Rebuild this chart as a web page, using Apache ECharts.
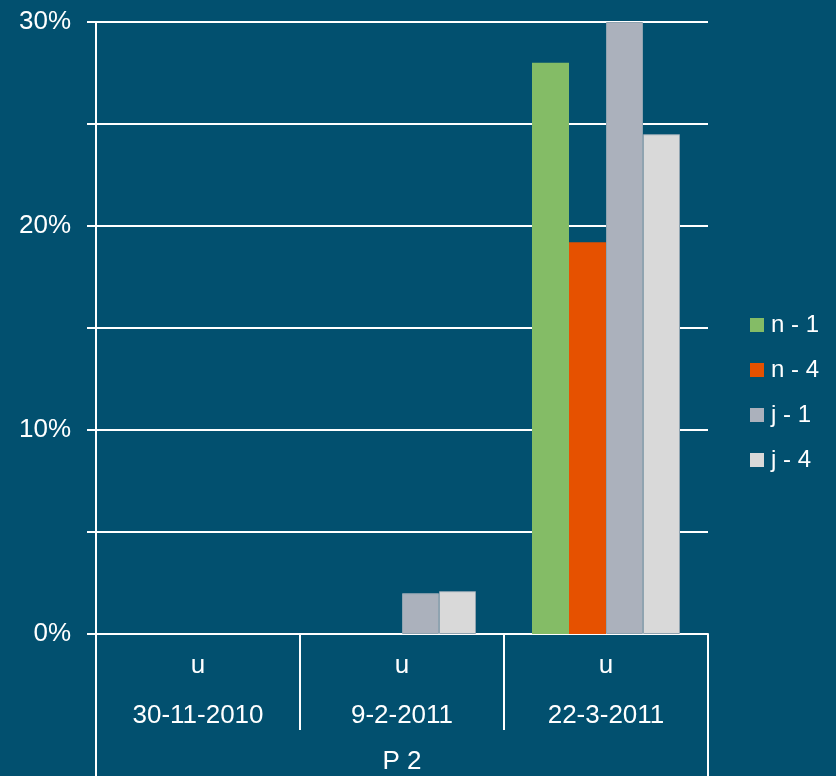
<!DOCTYPE html>
<html>
<head>
<meta charset="utf-8">
<script src="https://cdn.jsdelivr.net/npm/echarts@6/dist/echarts.min.js"></script>
<style>
  html, body { margin: 0; padding: 0; background: #02506f; }
</style>
</head>
<body>
<div id="main" style="width: 836px; height: 776px"></div>
<script>
// data (values in %)
var dates = ['30-11-2010', '9-2-2011', '22-3-2011'];
var subLabels = ['u', 'u', 'u'];
var groupLabel = ['P 2'];
var seriesNames = ['n - 1', 'n - 4', 'j - 1', 'j - 4'];
var n1 = [null, null, 28.0];
var n4 = [null, null, 19.2];
var j1 = [null, 2.0, 30.0];
var j4 = [null, 2.1, 24.5];
var colors = ['#84bc66', '#e65100', '#abb1bc', '#d9d9d9'];

var font = 'Liberation Sans, Arial, sans-serif';
var values = [n1, n4, j1, j4];

var series = seriesNames.map(function (name, i) {
  return {
    name: name,
    type: 'bar',
    data: values[i],
    barWidth: 37,
    barGap: '0%',
    itemStyle: {
      color: colors[i],
      borderColor: i >= 2 ? '#8fa3b0' : colors[i],
      borderWidth: i >= 2 ? 1 : 0
    }
  };
});

var option = {
  backgroundColor: '#02506f',
  animation: false,
  textStyle: { fontFamily: font },
  grid: { left: 96, right: 128, top: 22, bottom: 142 },
  legend: {
    orient: 'vertical',
    left: 745,
    top: 308,
    itemWidth: 14,
    itemHeight: 14,
    itemGap: 21,
    icon: 'rect',
    itemStyle: { borderWidth: 0 },
    textStyle: { color: '#ffffff', fontSize: 24, fontFamily: font, padding: [0, 0, 0, 2] },
    data: seriesNames
  },
  xAxis: [
    {
      type: 'category',
      data: dates,
      position: 'bottom',
      axisLine: { show: true, lineStyle: { color: '#ffffff', width: 2 } },
      axisTick: { show: true, interval: 0, length: 96, lineStyle: { color: '#ffffff', width: 2 } },
      axisLabel: {
        interval: 0,
        margin: 7,
        formatter: function (v, idx) {
          return '{a|' + subLabels[idx] + '}\n{b|' + v + '}';
        },
        rich: {
          a: { color: '#ffffff', fontSize: 26, lineHeight: 50, fontFamily: font },
          b: { color: '#ffffff', fontSize: 26, lineHeight: 50, fontFamily: font }
        }
      }
    },
    {
      type: 'category',
      data: groupLabel,
      position: 'bottom',
      axisLine: { show: false },
      axisTick: { show: true, interval: 0, length: 150, lineStyle: { color: '#ffffff', width: 2 } },
      axisLabel: {
        margin: 115,
        color: '#ffffff',
        fontSize: 26,
        lineHeight: 26,
        fontFamily: font
      }
    }
  ],
  yAxis: {
    type: 'value',
    min: 0,
    max: 30,
    interval: 5,
    axisLine: { show: true, lineStyle: { color: '#ffffff', width: 2 } },
    axisTick: { show: true, length: 9, lineStyle: { color: '#ffffff', width: 2 } },
    splitLine: { show: true, lineStyle: { color: '#ffffff', width: 2 } },
    axisLabel: {
      margin: 25,
      color: '#ffffff',
      fontSize: 26,
      fontFamily: font,
      formatter: function (v) {
        return Math.round(v) % 10 === 0 ? Math.round(v) + '%' : '';
      }
    }
  },
  series: series
};

var chart = echarts.init(document.getElementById('main'));
chart.setOption(option);
</script>
</body>
</html>
